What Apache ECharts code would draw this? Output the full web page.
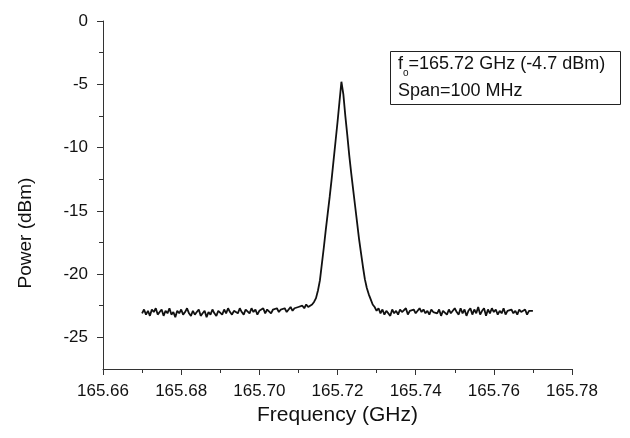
<!DOCTYPE html>
<html>
<head>
<meta charset="utf-8">
<script src="https://cdn.jsdelivr.net/npm/echarts@6/dist/echarts.min.js"></script>
<style>
  html, body { margin: 0; padding: 0; background: #fff; }
  #main { width: 630px; height: 438px; }
</style>
</head>
<body>
<div id="main"></div>
<script>
// frequency samples (GHz)
var freq = [
  165.6700, 165.6705, 165.6710, 165.6715, 165.6720, 165.6725, 165.6730, 165.6735, 165.6740, 165.6745,
  165.6750, 165.6755, 165.6760, 165.6765, 165.6770, 165.6775, 165.6780, 165.6785, 165.6790, 165.6795,
  165.6800, 165.6805, 165.6810, 165.6815, 165.6820, 165.6825, 165.6830, 165.6835, 165.6840, 165.6845,
  165.6850, 165.6855, 165.6860, 165.6865, 165.6870, 165.6875, 165.6880, 165.6885, 165.6890, 165.6895,
  165.6900, 165.6905, 165.6910, 165.6915, 165.6920, 165.6925, 165.6930, 165.6935, 165.6940, 165.6945,
  165.6950, 165.6955, 165.6960, 165.6965, 165.6970, 165.6975, 165.6980, 165.6985, 165.6990, 165.6995,
  165.7000, 165.7005, 165.7010, 165.7015, 165.7020, 165.7025, 165.7030, 165.7035, 165.7040, 165.7045,
  165.7050, 165.7055, 165.7060, 165.7065, 165.7070, 165.7075, 165.7080, 165.7085, 165.7090, 165.7095,
  165.7100, 165.7105, 165.7110, 165.7115, 165.7120, 165.7125, 165.7130, 165.7135, 165.7140, 165.7145,
  165.7150, 165.7155, 165.7160, 165.7165, 165.7170, 165.7175, 165.7180, 165.7185, 165.7190, 165.7195,
  165.7200, 165.7205, 165.7210, 165.7215, 165.7220, 165.7225, 165.7230, 165.7235, 165.7240, 165.7245,
  165.7250, 165.7255, 165.7260, 165.7265, 165.7270, 165.7275, 165.7280, 165.7285, 165.7290, 165.7295,
  165.7300, 165.7305, 165.7310, 165.7315, 165.7320, 165.7325, 165.7330, 165.7335, 165.7340, 165.7345,
  165.7350, 165.7355, 165.7360, 165.7365, 165.7370, 165.7375, 165.7380, 165.7385, 165.7390, 165.7395,
  165.7400, 165.7405, 165.7410, 165.7415, 165.7420, 165.7425, 165.7430, 165.7435, 165.7440, 165.7445,
  165.7450, 165.7455, 165.7460, 165.7465, 165.7470, 165.7475, 165.7480, 165.7485, 165.7490, 165.7495,
  165.7500, 165.7505, 165.7510, 165.7515, 165.7520, 165.7525, 165.7530, 165.7535, 165.7540, 165.7545,
  165.7550, 165.7555, 165.7560, 165.7565, 165.7570, 165.7575, 165.7580, 165.7585, 165.7590, 165.7595,
  165.7600, 165.7605, 165.7610, 165.7615, 165.7620, 165.7625, 165.7630, 165.7635, 165.7640, 165.7645,
  165.7650, 165.7655, 165.7660, 165.7665, 165.7670, 165.7675, 165.7680, 165.7685, 165.7690, 165.7695,
  165.7700
];

var power = [
  -23.1, -22.8, -23.2, -22.9, -23.3, -22.8, -23.0, -22.7, -23.2, -23.0,
  -22.8, -23.3, -22.9, -23.1, -22.7, -23.2, -23.0, -23.4, -22.9, -23.1,
  -22.8, -23.2, -23.0, -22.7, -23.1, -23.3, -22.9, -23.2, -23.0, -22.8,
  -23.3, -23.1, -22.9, -23.4, -23.0, -23.2, -22.8, -23.1, -23.3, -22.9,
  -23.0, -23.2, -22.8, -23.1, -22.7, -23.0, -23.2, -22.9, -22.8, -23.1,
  -22.7, -23.0, -23.2, -22.8, -22.9, -23.1, -22.7, -23.0, -22.8, -23.2,
  -22.9, -23.0, -22.7, -23.1, -22.8, -22.9, -23.1, -22.8, -22.9, -22.7,
  -23.0, -22.8, -22.9, -22.7, -23.0, -22.8, -22.6, -22.9, -22.7, -22.8,
  -22.6, -22.7, -22.5, -22.7, -22.4, -22.6, -22.6, -22.4, -22.2, -21.9,
  -21.3, -20.5, -19.2, -17.9, -16.5, -15.2, -13.9, -12.5, -11.0, -9.5,
  -8.0, -6.4, -4.8, -5.8, -7.5, -9.0, -10.6, -12.0, -13.3, -14.6,
  -15.9, -17.2, -18.3, -19.4, -20.4, -21.1, -21.6, -22.0, -22.4, -22.6,
  -22.9, -22.7, -23.1, -22.8, -23.2, -22.9, -23.0, -23.3, -22.8, -23.1,
  -22.9, -23.2, -22.8, -23.0, -23.1, -22.7, -23.2, -22.9, -23.0, -22.8,
  -23.1, -22.9, -22.7, -23.0, -22.8, -23.1, -22.9, -23.2, -22.8, -23.0,
  -22.9, -23.1, -22.8, -23.3, -22.9, -23.0, -23.2, -22.8, -23.1, -22.9,
  -22.7, -23.0, -23.2, -22.7, -23.1, -22.8, -23.3, -22.9, -22.7, -23.2,
  -22.8, -23.1, -22.6, -23.2, -22.9, -22.7, -23.3, -22.8, -23.1, -22.7,
  -23.0, -22.8, -23.2, -22.9, -23.1, -22.7, -23.2, -22.9, -23.0, -22.8,
  -23.1, -22.9, -23.2, -22.8, -23.0, -23.1, -22.8, -23.2, -22.9, -23.0,
  -22.9
];

var yMajorTicks = [0, -5, -10, -15, -20, -25];
var yMinorTicks = [-2.5, -7.5, -12.5, -17.5, -22.5];

var seriesData = [];
for (var i = 0; i < freq.length; i++) {
  seriesData.push([freq[i], power[i]]);
}

var font = 'Liberation Sans, Arial, sans-serif';
var axisColor = '#333';

var chart = echarts.init(document.getElementById('main'), null, { renderer: 'canvas' });

var option = {
  animation: false,
  backgroundColor: '#fff',
  title: {
    left: 390,
    top: 47,
    padding: [4, 16, 4, 8],
    borderColor: '#222',
    borderWidth: 1,
    text: '{f|f}{sub|o}{t|=165.72 GHz (-4.7 dBm)}\n{t|Span=100 MHz}',
    textStyle: {
      fontWeight: 'normal',
      rich: {
        f: { fontFamily: font, fontSize: 18, fontWeight: 'normal', color: '#111', lineHeight: 27 },
        sub: { fontFamily: font, fontSize: 10, fontWeight: 'normal', color: '#111', lineHeight: 27, verticalAlign: 'bottom' },
        t: { fontFamily: font, fontSize: 18, fontWeight: 'normal', color: '#111', lineHeight: 27 }
      }
    }
  },
  grid: { left: 103, right: 58, top: 21, bottom: 69 },
  xAxis: {
    type: 'value',
    min: 165.66,
    max: 165.78,
    interval: 0.02,
    name: 'Frequency (GHz)',
    nameLocation: 'middle',
    nameGap: 36,
    nameTextStyle: { fontFamily: font, fontSize: 21, color: '#111' },
    axisLine: { show: true, onZero: false, lineStyle: { color: axisColor, width: 1 } },
    axisTick: { show: true, inside: false, length: 6, lineStyle: { color: axisColor } },
    minorTick: { show: true, splitNumber: 2, length: 4, lineStyle: { color: axisColor } },
    axisLabel: {
      fontFamily: font, fontSize: 17, color: '#111', margin: 14,
      formatter: function (v) { return v.toFixed(2); }
    },
    splitLine: { show: false },
    minorSplitLine: { show: false }
  },
  yAxis: [
    {
      type: 'value',
      min: -27.5,
      max: 0,
      name: 'Power (dBm)',
      nameLocation: 'middle',
      nameGap: 68,
      nameTextStyle: { fontFamily: font, fontSize: 19, color: '#111', padding: [0, 76, 0, 0] },
      axisLine: { show: true, onZero: false, lineStyle: { color: axisColor, width: 1 } },
      axisTick: { show: true, inside: false, length: 6, customValues: yMajorTicks, lineStyle: { color: axisColor } },
      axisLabel: {
        fontFamily: font, fontSize: 17, color: '#111', margin: 15,
        customValues: yMajorTicks,
        formatter: function (v) { return String(v); }
      },
      splitLine: { show: false }
    },
    {
      type: 'value',
      position: 'left',
      offset: 0,
      min: -27.5,
      max: 0,
      axisLine: { show: false },
      axisTick: { show: true, inside: false, length: 4, customValues: yMinorTicks, lineStyle: { color: axisColor } },
      axisLabel: { show: false, customValues: yMinorTicks },
      splitLine: { show: false }
    }
  ],
  series: [{
    type: 'line',
    data: seriesData,
    yAxisIndex: 0,
    showSymbol: false,
    symbol: 'none',
    lineStyle: { color: '#111', width: 1.8 }
  }]
};

chart.setOption(option);
</script>
</body>
</html>
